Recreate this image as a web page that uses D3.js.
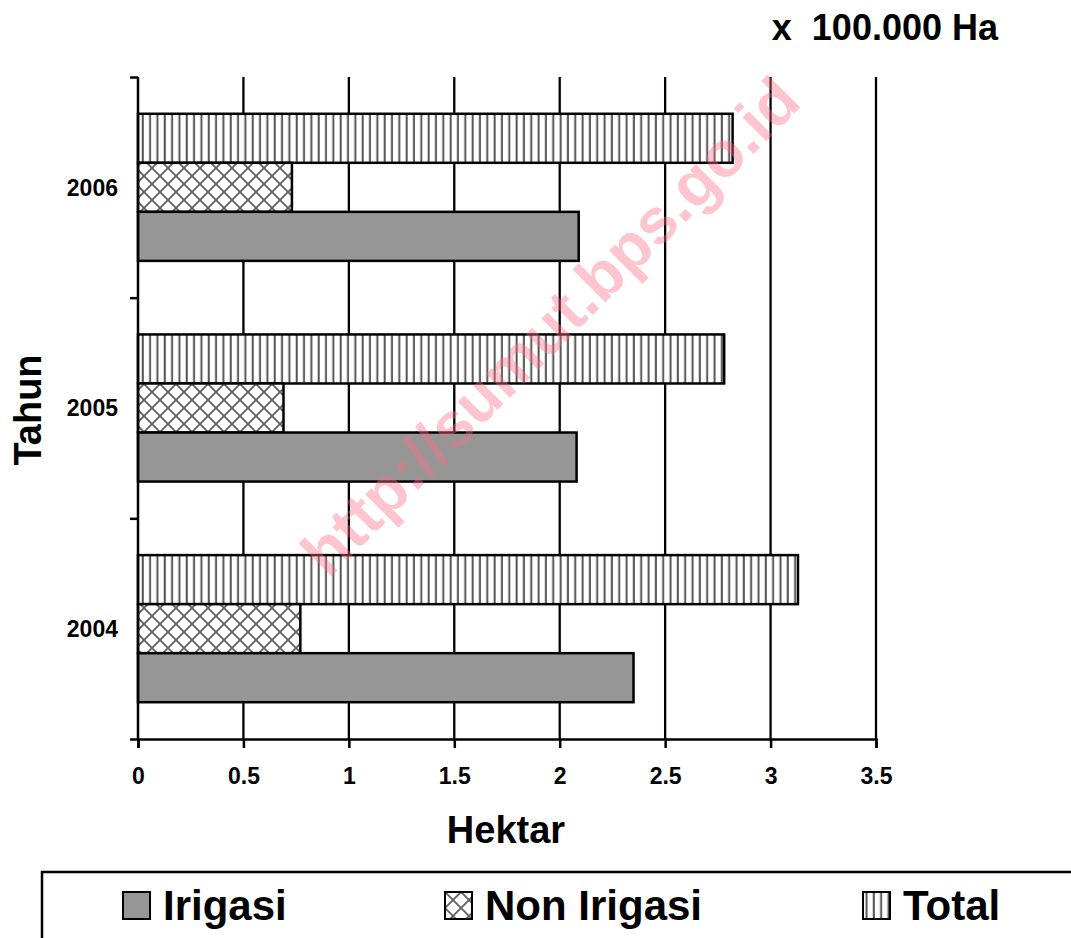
<!DOCTYPE html>
<html>
<head>
<meta charset="utf-8">
<script src="https://cdnjs.cloudflare.com/ajax/libs/d3/7.8.5/d3.min.js"></script>
<style>
	body { margin: 0; background: #fff; }
	svg { display: block; }
	text { font-family: "Liberation Sans", Arial, sans-serif; font-weight: bold; fill: #000; }
</style>
</head>
<body>
<div id="chart"></div>
<script>

// Data (x 100.000 Ha):
var years = ['2006', '2005', '2004'],
	seriesNames = ['Total', 'Non Irigasi', 'Irigasi'],
	legendNames = ['Irigasi', 'Non Irigasi', 'Total'],
	irigasi = [2.09, 2.08, 2.35],
	nonIrigasi = [0.73, 0.69, 0.77],
	total = [2.82, 2.78, 3.13],
	xTicks = [0, 0.5, 1, 1.5, 2, 2.5, 3, 3.5];

var width = 1071,
	height = 938,
	margin = [77, 195, 199, 138]; // top, right, bottom, left

var rows = [];
years.forEach(function(y, i) {
	rows.push({ year: y, series: 'Total', value: total[i] });
	rows.push({ year: y, series: 'Non Irigasi', value: nonIrigasi[i] });
	rows.push({ year: y, series: 'Irigasi', value: irigasi[i] });
});

var svg = d3.select('#chart').append('svg')
	.attr('width', width)
	.attr('height', height);

// Fill patterns:
var defs = svg.append('defs');

var pv = defs.append('pattern')
	.attr('id', 'patVert')
	.attr('patternUnits', 'userSpaceOnUse')
	.attr('width', 7.33)
	.attr('height', 10);
pv.append('rect').attr('width', 7.33).attr('height', 10).attr('fill', '#fff');
pv.append('rect').attr('x', 2.5).attr('width', 2).attr('height', 10).attr('fill', '#555');

var px = defs.append('pattern')
	.attr('id', 'patCross')
	.attr('patternUnits', 'userSpaceOnUse')
	.attr('width', 16)
	.attr('height', 16);
px.append('rect').attr('width', 16).attr('height', 16).attr('fill', '#fff');
px.append('path')
	.attr('d', 'M0,0L16,16M16,0L0,16M-4,12L4,20M12,-4L20,4M-4,4L4,-4M12,20L20,12')
	.attr('stroke', '#606060')
	.attr('stroke-width', 1.8);

var fills = {
	'Irigasi': '#969696',
	'Non Irigasi': 'url(#patCross)',
	'Total': 'url(#patVert)'
};

var plotW = width - margin[1] - margin[3],
	plotH = height - margin[0] - margin[2];

var x = d3.scaleLinear()
	.domain([0, 3.5])
	.range([margin[3], margin[3] + plotW]);

var y = d3.scaleBand()
	.domain(years)
	.range([margin[0], margin[0] + plotH])
	.padding(0);

var bw = y.bandwidth();
var inner = d3.scaleBand()
	.domain(seriesNames)
	.range([bw / 6, bw * 5 / 6])
	.padding(0);

// Gridlines:
svg.append('g').attr('class', 'grid')
	.selectAll('line')
	.data(xTicks.slice(1))
	.join('line')
		.attr('x1', function(d) { return x(d); })
		.attr('x2', function(d) { return x(d); })
		.attr('y1', margin[0])
		.attr('y2', margin[0] + plotH)
		.attr('stroke', '#000')
		.attr('stroke-width', 2.3);

// Bars:
svg.append('g').attr('class', 'bars')
	.selectAll('rect')
	.data(rows)
	.join('rect')
		.attr('x', x(0))
		.attr('y', function(d) { return y(d.year) + inner(d.series); })
		.attr('width', function(d) { return x(d.value) - x(0); })
		.attr('height', inner.bandwidth())
		.attr('fill', function(d) { return fills[d.series]; })
		.attr('stroke', '#000')
		.attr('stroke-width', 2.5);

// X axis:
var xAxis = svg.append('g')
	.attr('transform', 'translate(0,' + (margin[0] + plotH) + ')')
	.call(d3.axisBottom(x).tickValues(xTicks).tickSize(9).tickPadding(12)
		.tickFormat(function(d) { return String(d); }));
xAxis.select('.domain').attr('stroke', '#000').attr('stroke-width', 2.5);
xAxis.selectAll('.tick line').attr('stroke', '#000').attr('stroke-width', 2.5);
xAxis.selectAll('.tick text')
	.attr('font-size', 23)
	.attr('font-family', '"Liberation Sans", Arial, sans-serif')
	.attr('font-weight', 'bold')
	.attr('y', 29)
	.attr('dy', '0.71em');

// Y axis (ticks between categories):
var yIdx = d3.scaleLinear().domain([0, years.length]).range([margin[0], margin[0] + plotH]);
var yAxis = svg.append('g')
	.attr('transform', 'translate(' + margin[3] + ',0)')
	.call(d3.axisLeft(yIdx).tickValues(d3.range(years.length + 1)).tickSize(8).tickFormat(''));
yAxis.select('.domain').attr('stroke', '#000').attr('stroke-width', 2.5).attr('d', 'M0,' + margin[0] + 'V' + (margin[0] + plotH));
yAxis.selectAll('.tick line').attr('stroke', '#000').attr('stroke-width', 2.5);

svg.append('g').selectAll('text')
	.data(years)
	.join('text')
		.attr('x', margin[3] - 20)
		.attr('y', function(d) { return y(d) + bw / 2; })
		.attr('dy', '0.36em')
		.attr('text-anchor', 'end')
		.attr('font-size', 23)
		.text(function(d) { return d; });

// Axis titles:
svg.append('text')
	.attr('x', 506)
	.attr('y', 843)
	.attr('text-anchor', 'middle')
	.attr('font-size', 38)
	.text('Hektar');

svg.append('text')
	.attr('transform', 'translate(41,' + 410 + ') rotate(-90)')
	.attr('text-anchor', 'middle')
	.attr('font-size', 38)
	.text('Tahun');

svg.append('text')
	.attr('x', 998)
	.attr('y', 40)
	.attr('text-anchor', 'end')
	.attr('font-size', 36)
	.style('white-space', 'pre')
	.text('x  100.000 Ha');

// Watermark:
svg.append('text')
	.attr('transform', 'translate(550,326) rotate(-45)')
	.attr('text-anchor', 'middle')
	.attr('dy', '0.35em')
	.attr('font-size', 64)
	.style('fill', 'rgb(255,110,135)')
	.style('fill-opacity', 0.4)
	.text('http://sumut.bps.go.id');

// Legend:
var legend = svg.append('g').attr('class', 'legend');
legend.append('rect')
	.attr('x', 42)
	.attr('y', 872)
	.attr('width', 1100)
	.attr('height', 100)
	.attr('fill', 'none')
	.attr('stroke', '#000')
	.attr('stroke-width', 2.5);

var legendX = [123, 445, 863];
var items = legend.selectAll('g.item')
	.data(legendNames)
	.join('g')
		.attr('class', 'item')
		.attr('transform', function(d, i) { return 'translate(' + legendX[i] + ',892)'; });
items.append('rect')
	.attr('width', 27)
	.attr('height', 27)
	.attr('fill', function(d) { return fills[d]; })
	.attr('stroke', '#000')
	.attr('stroke-width', 2);
items.append('text')
	.attr('x', 40)
	.attr('y', 28)
	.attr('font-size', 42)
	.text(function(d) { return d; });

</script>
</body>
</html>
